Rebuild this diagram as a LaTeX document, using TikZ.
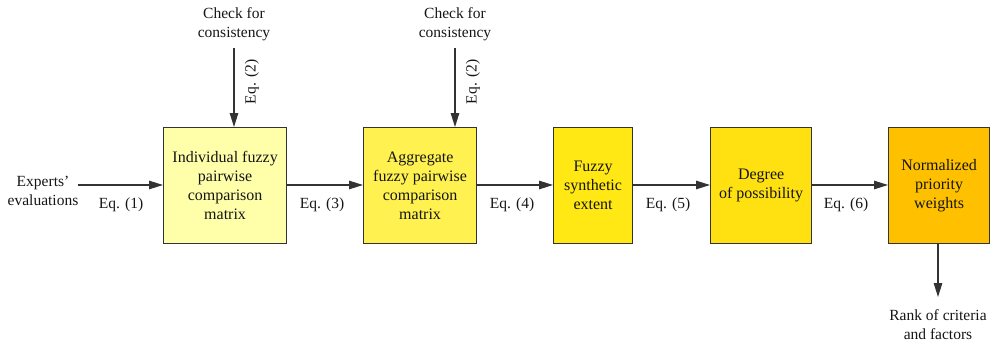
\documentclass[tikz,border=0pt]{standalone}
\usepackage{fontspec}
\setmainfont{Liberation Serif}
\usetikzlibrary{arrows.meta}
\definecolor{edgegray}{HTML}{333333}
\definecolor{inkgray}{HTML}{151515}
\definecolor{fillA}{HTML}{FFFFAA}
\definecolor{fillB}{HTML}{FFF250}
\definecolor{fillC}{HTML}{FFE814}
\definecolor{fillD}{HTML}{FFE010}
\definecolor{fillE}{HTML}{FFC000}
\begin{document}
\begin{tikzpicture}[x=1pt,y=-1pt,
  every node/.style={font=\fontsize{15.5}{19}\selectfont, text=inkgray, inner sep=0pt},
  procbox/.style={draw=edgegray, line width=1.2pt, align=center, anchor=north west,
                  font=\fontsize{16}{19}\selectfont, minimum height=116pt},
  freetext/.style={align=center},
  flow/.style={draw=edgegray, line width=1.2pt, -{Triangle[length=14pt,width=8.5pt]}}]
\useasboundingbox (0,0) rectangle (993,345);

% process boxes
\node[procbox, fill=fillA, minimum width=123pt] (b1) at (163,127) {Individual fuzzy\\pairwise\\comparison\\matrix};
\node[procbox, fill=fillB, minimum width=113pt] (b2) at (363,127) {Aggregate\\fuzzy pairwise\\comparison\\matrix};
\node[procbox, fill=fillC, minimum width=79pt] (b3) at (553,127) {Fuzzy\\synthetic\\extent};
\node[procbox, fill=fillD, minimum width=101pt] (b4) at (710,127) {Degree\\of possibility};
\node[procbox, fill=fillE, minimum width=101pt] (b5) at (888,127) {Normalized\\priority\\weights};

% free texts
\node[freetext] (exp) at (43,191) {Experts'\\evaluations};
\coordinate (expend) at (78,185);
\node[freetext] (chk1) at (234,24) {Check for\\consistency};
\node[freetext] (chk2) at (455,24) {Check for\\consistency};
\coordinate (c1) at (234,48);
\coordinate (c2) at (455,48);
\node[freetext] (rank) at (938,325) {Rank of criteria\\and factors};
\coordinate (r1) at (938,297);

% connectors
\draw[flow] (expend) -- (b1.west |- expend);
\draw[flow] (b1.east |- expend) -- (b2.west |- expend);
\draw[flow] (b2.east |- expend) -- (b3.west |- expend);
\draw[flow] (b3.east |- expend) -- (b4.west |- expend);
\draw[flow] (b4.east |- expend) -- (b5.west |- expend);
\draw[flow] (c1) -- (c1 |- b1.north);
\draw[flow] (c2) -- (c2 |- b2.north);
\draw[flow] (r1 |- b5.south) -- (r1);

% equation labels
\node (e1) at (121,205) {Eq. (1)};
\node (e3) at (322,205) {Eq. (3)};
\node (e4) at (512,205) {Eq. (4)};
\node (e5) at (668,205) {Eq. (5)};
\node (e6) at (846,205) {Eq. (6)};
\node[rotate=90] (e2a) at (252,82) {Eq. (2)};
\node[rotate=90] (e2b) at (473,82) {Eq. (2)};
\end{tikzpicture}
\end{document}
